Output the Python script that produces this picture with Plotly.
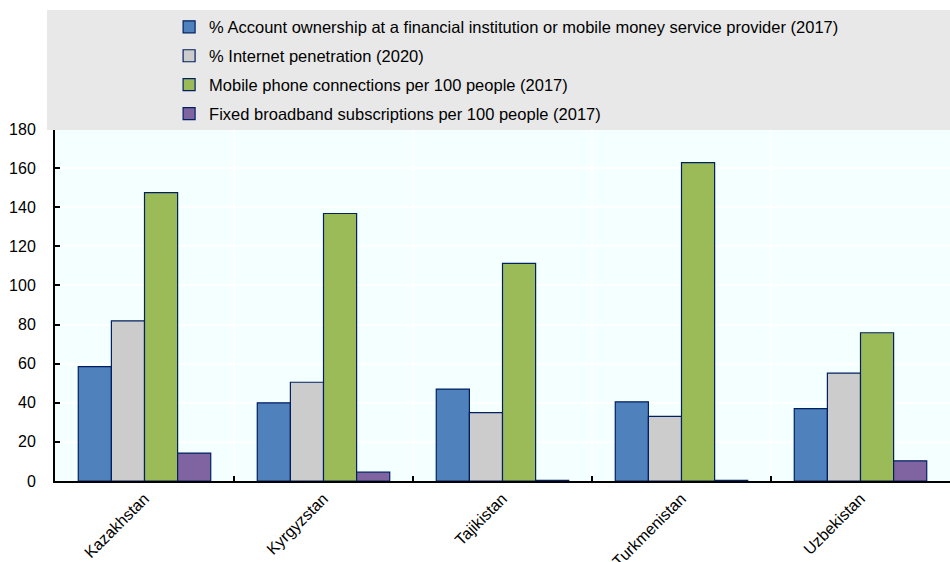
import plotly.graph_objects as go

countries = ["Kazakhstan", "Kyrgyzstan", "Tajikistan", "Turkmenistan", "Uzbekistan"]
series_names = [
    "% Account ownership at a financial institution or mobile money service provider (2017)",
    "% Internet penetration (2020)",
    "Mobile phone connections per 100 people (2017)",
    "Fixed broadband subscriptions per 100 people (2017)",
]
account = [58.5, 40.0, 47.0, 40.5, 37.0]
internet = [81.9, 50.5, 35.0, 33.0, 55.2]
mobile = [147.5, 136.8, 111.3, 162.8, 75.8]
broadband = [14.3, 4.5, 0.3, 0.3, 10.3]
colors = ["#4F81BD", "#CCCCCC", "#9BBB59", "#8064A2"]

FONT = "Liberation Sans, Arial, sans-serif"

fig = go.Figure()
for i, (name, vals) in enumerate(zip(series_names, [account, internet, mobile, broadband])):
    fig.add_trace(go.Bar(
        x=countries, y=vals, name=name,
        marker=dict(color=colors[i], line=dict(color="#002060", width=1.2)),
        legendgroup=f"g{i}",
    ))

fig.add_shape(type="rect", xref="paper", yref="paper",
              x0=-0.009, x1=1.0, y0=0.997, y1=1.338,
              fillcolor="#E8E8E8", line=dict(width=0), layer="above")

fig.update_layout(
    width=950, height=562,
    margin=dict(l=55, r=0, t=129, b=81, autoexpand=False),
    barmode="group", bargap=0.26, bargroupgap=0,
    plot_bgcolor="#F4FFFF", paper_bgcolor="white",
    font=dict(family=FONT, size=16, color="black"),
    showlegend=True,
    legend=dict(xref="container", yref="container", x=0.178, y=0.983,
                xanchor="left", yanchor="top",
                bgcolor="rgba(0,0,0,0)", font=dict(size=16.5, family=FONT),
                tracegroupgap=4.5, itemwidth=30, traceorder="grouped"),
    xaxis=dict(tickson="boundaries", ticks="inside", ticklen=5, tickcolor="black",
               tickwidth=1.5, showline=True, linecolor="black", linewidth=2,
               showgrid=True, gridcolor="white", gridwidth=1.5, automargin=False,
               tickangle=-45, tickfont=dict(size=16, family=FONT)),
    yaxis=dict(range=[0, 180], dtick=20, ticks="inside", ticklen=5, tickcolor="black",
               tickwidth=1.5, showline=True, linecolor="black", linewidth=2,
               showgrid=True, gridcolor="white", gridwidth=1.5, zeroline=False,
               automargin=False,
               ticklabelstandoff=14, tickfont=dict(size=16, family=FONT)),
)

fig.write_html("out.html", config={"displayModeBar": False},
               post_script="document.body.style.margin='0';document.body.style.overflow='hidden';")
